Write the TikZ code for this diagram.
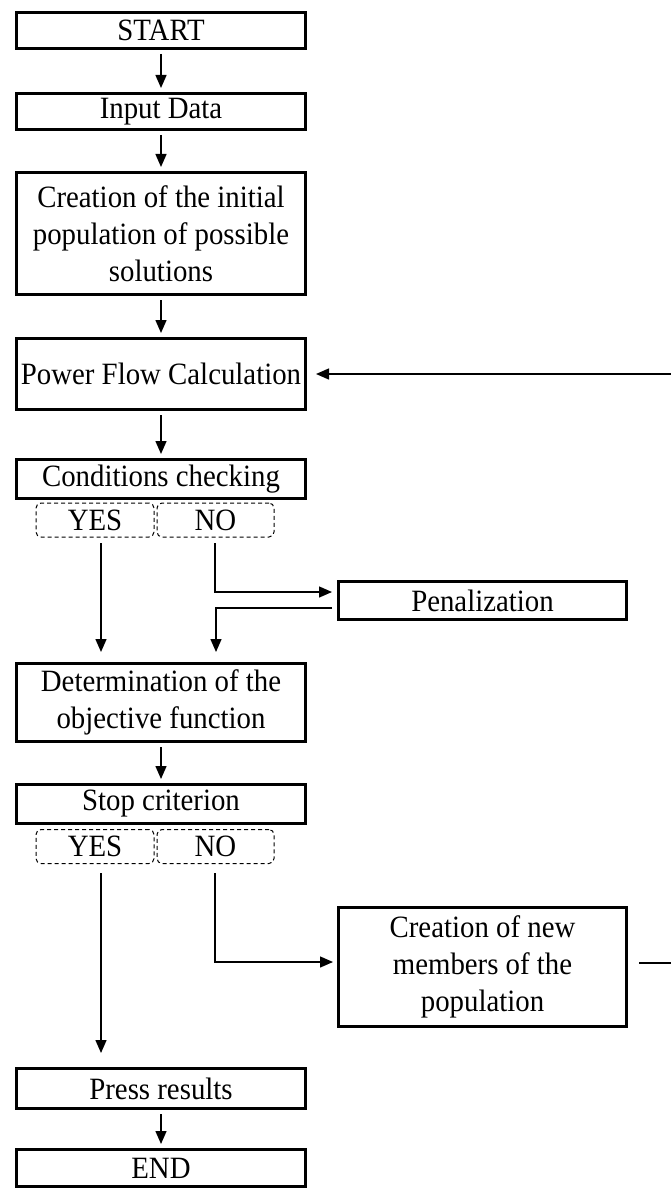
\documentclass[tikz,border=0pt]{standalone}
\usepackage{fontspec}
\setmainfont[FakeStretch=0.93]{Liberation Serif}
\usetikzlibrary{arrows.meta}
\begin{document}
\begin{tikzpicture}[x=1pt,y=-1pt,
  box/.style={draw, line width=3pt, inner sep=0pt, align=center, minimum width=289pt},
  choice/.style={draw, dash pattern=on 4pt off 3pt, line width=1pt, rounded corners=5pt, inner sep=0pt, minimum height=34pt},
  arr/.style={line width=1.4pt, -{Triangle[length=13pt,width=11pt]}, shorten >=4pt, shorten <=4pt},
  ln/.style={line width=1.4pt}]
\useasboundingbox (0,0) rectangle (670,1190);
\fontsize{31}{37}\selectfont
\node[box, minimum height=36pt] (start) at (161,30.5) {START};
\node[box, minimum height=36pt] (input) at (161,111.5) {Input Data};
\node[box, minimum height=122pt] (init) at (161,233.5) {Creation of the initial\\population of possible\\solutions};
\node[box, minimum height=71pt] (power) at (161,374) {Power Flow Calculation};
\node[box, minimum height=39pt] (cond) at (161,479) {Conditions checking};
\node[choice, minimum width=118pt] (yes1) at (95,520) {YES};
\node[choice, minimum width=117pt] (no1) at (215.5,520) {NO};
\node[box, minimum width=288pt, minimum height=38pt] (pen) at (482.5,600.5) {Penalization};
\node[box, minimum height=78pt] (det) at (161,702.5) {Determination of the\\objective function};
\node[box, minimum height=39pt] (stop) at (161,804) {Stop criterion};
\node[choice, minimum width=118pt] (yes2) at (95,846.5) {YES};
\node[choice, minimum width=117pt] (no2) at (215.5,846.5) {NO};
\node[box, minimum width=288pt, minimum height=119pt] (cnew) at (482.5,967) {Creation of new\\members of the\\population};
\node[box, minimum height=40pt] (press) at (161,1088.5) {Press results};
\node[box, minimum height=37pt] (end) at (161,1168) {END};

\coordinate (ya) at (101,543);
\coordinate (na) at (215,543);
\coordinate (yb) at (101,873);
\coordinate (nb) at (215,873);
\coordinate (rt) at (690,963);
\coordinate (rb) at (690,374);

\draw[arr] (start) -- (input);
\draw[arr] (input) -- (init);
\draw[arr] (init) -- (power);
\draw[arr] (power) -- (cond);
\draw[arr, shorten <=0pt, shorten >=10pt] (ya) -- (ya |- det.north);
\draw[arr, shorten <=0pt, shorten >=5pt] (na) |- ([yshift=8.5pt]pen.west);
\draw[arr, shorten <=5pt, shorten >=10pt] ([yshift=-7.5pt]pen.west) -| ([xshift=55pt]det.north);
\draw[arr] (det) -- (stop);
\draw[arr, shorten <=0pt, shorten >=14pt] (yb) -- (yb |- press.north);
\draw[arr, shorten <=0pt, shorten >=4pt] (nb) |- ([yshift=5pt]cnew.west);
\draw[arr, shorten <=11pt, shorten >=9pt] ([yshift=4pt]cnew.east) -- (rt) -- (rb) -- (power.east);
\draw[arr] (press) -- (end);
\end{tikzpicture}
\end{document}
